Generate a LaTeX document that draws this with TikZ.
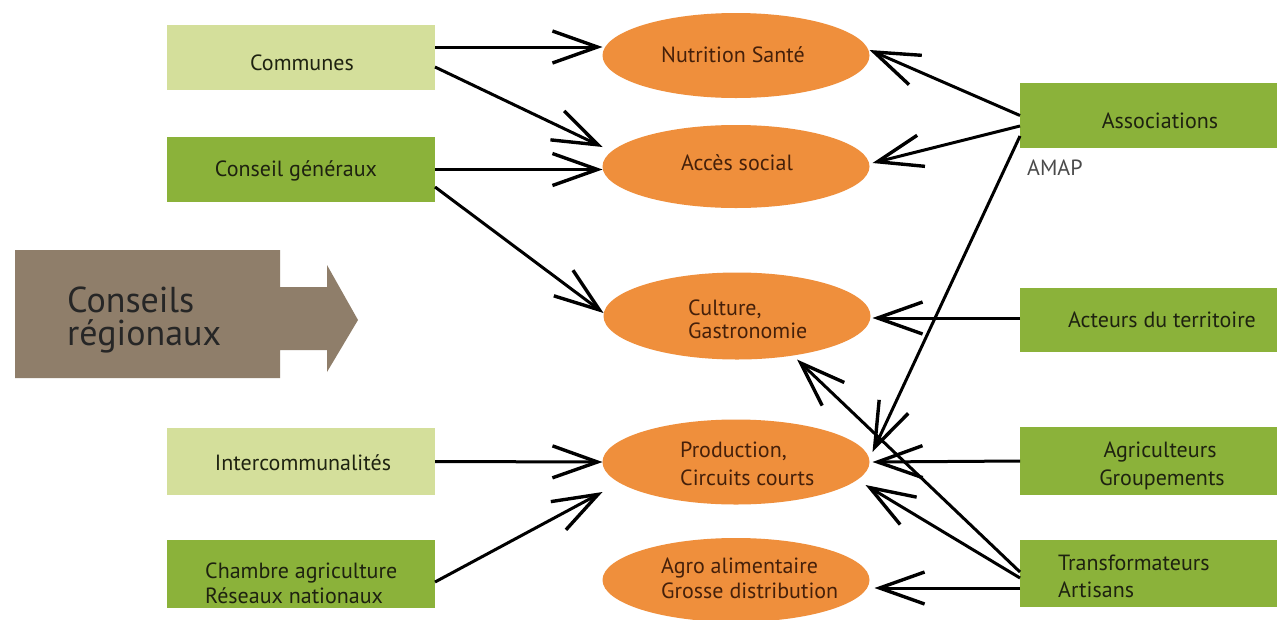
\documentclass[tikz,border=0pt]{standalone}
\usepackage{fontspec}
\setmainfont{PT Sans}
\usetikzlibrary{arrows.meta,shapes.geometric}
\definecolor{lgreen}{HTML}{D4DF9B}
\definecolor{dgreen}{HTML}{8BB23A}
\definecolor{orng}{HTML}{EF8F3C}
\definecolor{taupe}{HTML}{8F7E6A}
\definecolor{txtdark}{HTML}{1E2210}
\definecolor{txtbrown}{HTML}{45200A}
\definecolor{amapgray}{HTML}{4A4A4A}
\begin{document}
\begin{tikzpicture}[x=1pt,y=-1pt,
  box/.style={rectangle, minimum width=268pt, inner sep=0pt, outer sep=0pt},
  lbox/.style={box, fill=lgreen},
  gbox/.style={box, fill=dgreen},
  rbox/.style={gbox, minimum width=257pt},
  oval/.style={ellipse, fill=orng, minimum width=267pt, inner sep=0pt, outer sep=0pt},
  lbl/.style={font=\fontsize{22}{26}\selectfont, text=txtdark, inner sep=0pt},
  olbl/.style={lbl, text=txtbrown},
  conn/.style={line width=3pt, -{Straight Barb[length=45pt,width=32pt,line width=3.4pt]}},
]
\useasboundingbox (0,0) rectangle (1277,619);
\fill[white] (0,0) rectangle (1277,619);

% left boxes
\node[lbox, minimum height=65pt] (comm) at (301,57.5) {};
\node[gbox, minimum height=65pt] (cgen) at (301,169.5) {};
\node[lbox, minimum height=67pt] (inter) at (301,461.5) {};
\node[gbox, minimum height=68pt] (chamb) at (301,574) {};
% right boxes
\node[rbox, minimum height=65pt] (assoc) at (1148.5,115.5) {};
\node[rbox, minimum height=64pt] (acteurs) at (1148.5,320) {};
\node[rbox, minimum height=68pt] (agri) at (1148.5,461) {};
\node[rbox, minimum height=67pt] (transf) at (1148.5,573.5) {};
% ellipses
\node[oval, minimum height=85pt] (nut) at (736,55.5) {};
\node[oval, minimum height=83pt] (acc) at (736,166.5) {};
\node[oval, minimum height=87pt] (cul) at (737,316) {};
\node[oval, minimum height=85pt] (prod) at (736,462) {};
\node[oval, minimum height=84pt] (agro) at (736,580) {};

% Conseils regionaux arrow
\fill[taupe] (15,250) -- (280,250) -- (280,287) -- (327,287) -- (327,265) -- (358,320)
  -- (327,372) -- (327,350) -- (280,350) -- (280,378) -- (15,378) -- cycle;
\node[anchor=south west, align=left, font=\fontsize{36}{33}\selectfont, text=black!85, inner sep=0pt] (creg) at (67,353) {Conseils\\régionaux};

% connectors
\draw[conn] ([yshift=10.5pt]comm.east) -- ([yshift=8.5pt]nut.west);
\draw[conn] ([yshift=-9.5pt]comm.east) -- ([yshift=19.5pt]acc.west);
\draw[conn] (cgen.east) -- ([yshift=-3pt]acc.west);
\draw[conn] ([yshift=-17.5pt]cgen.east) -- ([yshift=3pt]cul.west);
\draw[conn] (inter.east) -- (prod.west);
\draw[conn] ([yshift=-8pt]chamb.east) -- ([yshift=-30pt]prod.west);
\draw[conn] (assoc.west) -- ([yshift=5.5pt]nut.east);
\draw[conn] ([yshift=-10.5pt]assoc.west) -- ([yshift=3.5pt,xshift=3pt]acc.east);
\draw[conn] ([yshift=-20.5pt]assoc.west) -- ([yshift=10pt,xshift=3pt]prod.east);
\draw[conn] ([yshift=2pt]acteurs.west) -- ([yshift=-2pt,xshift=2pt]cul.east);
\draw[conn] (agri.west) -- ([xshift=3pt]prod.east);
\draw[conn] ([yshift=-4.5pt]transf.west) -- ([yshift=-23pt,xshift=-4pt]prod.east);
\draw[conn] ([yshift=1.5pt]transf.west) -- ([xshift=60pt]cul.south);
\draw[conn] ([yshift=-14.5pt]transf.west) -- ([yshift=-8pt,xshift=5pt]agro.east);

% texts
\node[lbl, anchor=base] (t-comm) at (302,70.5) {Communes};
\node[lbl, anchor=base] (t-cgen) at (296,176) {Conseil généraux};
\node[lbl, anchor=base] (t-inter) at (303,470.5) {Intercommunalités};
\node[lbl, anchor=base west] (t-chamb1) at (205,578) {Chambre agriculture};
\node[lbl, anchor=base west] (t-chamb2) at (205,603) {Réseaux nationaux};
\node[lbl, anchor=base] (t-assoc) at (1160,128) {Associations};
\node[lbl, anchor=base west, text=amapgray] (t-amap) at (1027,175) {AMAP};
\node[lbl, anchor=base] (t-act) at (1162,327) {Acteurs du territoire};
\node[lbl, anchor=base] (t-agri1) at (1160,457) {Agriculteurs};
\node[lbl, anchor=base] (t-agri2) at (1162,485) {Groupements};
\node[lbl, anchor=base west] (t-tr1) at (1058,570) {Transformateurs};
\node[lbl, anchor=base west] (t-tr2) at (1058,597) {Artisans};
\node[olbl, anchor=base] (t-nut) at (733,62) {Nutrition Santé};
\node[olbl, anchor=base] (t-acc) at (737,170) {Accès social};
\node[olbl, anchor=base west] (t-cul1) at (688,315) {Culture,};
\node[olbl, anchor=base west] (t-cul2) at (688,338) {Gastronomie};
\node[olbl, anchor=base west] (t-prod1) at (680,457) {Production,};
\node[olbl, anchor=base west] (t-prod2) at (680,485) {Circuits courts};
\node[olbl, anchor=base west] (t-agro1) at (661,573) {Agro alimentaire};
\node[olbl, anchor=base west] (t-agro2) at (661,598) {Grosse distribution};
\end{tikzpicture}
\end{document}
